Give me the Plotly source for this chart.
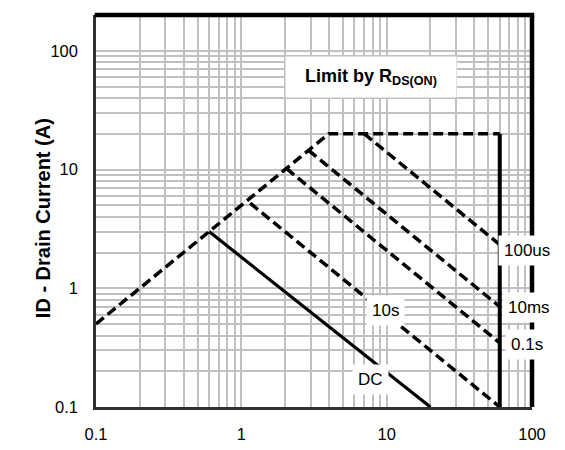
import math
import plotly.graph_objects as go

# ---- Data ----
rds_limit_v = [0.1, 4, 60]
rds_limit_i = [0.5, 20, 20]
vds_max_v = [60, 60]
vds_max_i = [20, 0.1]
t100us_v = [7, 60]
t100us_i = [20, 2.33]
t10ms_v = [2.9, 60]
t10ms_i = [14.5, 0.70]
t100ms_v = [2.04, 60]
t100ms_i = [10.2, 0.347]
t10s_v = [1.15, 60]
t10s_i = [5.2, 0.1]
dc_v = [0.6, 20]
dc_i = [3.0, 0.1]
curve_labels = ["100us", "10ms", "0.1s", "10s", "DC"]
x_tick_labels = ["0.1", "1", "10", "100"]
y_tick_labels = ["0.1", "1", "10", "100"]
y_title = "ID - Drain Current (A)"
limit_label = "Limit by R<sub>DS(ON)</sub>"

FONT = "Liberation Sans, Arial, sans-serif"
DASH = "10px,5px"

# tick positions: every 1..9 multiple; text only on decades
def ticks(labels, top):
    vals, txt = [], []
    for lab in labels:
        base = float(lab)
        for m in range(1, 10):
            v = base * m
            if v <= top * 1.0001:
                vals.append(v)
                txt.append(lab if m == 1 else "")
    return vals, txt

xv, xt = ticks(x_tick_labels, 100)
yv, yt = ticks(y_tick_labels + ["1000"], 200)

fig = go.Figure()

def line(x, y, dash=None, width=3.5):
    fig.add_trace(go.Scatter(x=x, y=y, mode="lines",
                             line=dict(color="black", width=width, dash=dash),
                             showlegend=False, hoverinfo="skip"))

line(rds_limit_v, rds_limit_i, DASH, 3.5)
line(t100us_v, t100us_i, DASH, 3.5)
line(t10ms_v, t10ms_i, DASH, 3.5)
line(t100ms_v, t100ms_i, DASH, 3.5)
line(t10s_v, t10s_i, DASH, 3.5)
line(dc_v, dc_i, None, 3.2)
line(vds_max_v, vds_max_i, None, 4)

lab_font = dict(family=FONT, size=17, color="black")
label_pos = [(92.5, 2.06), (95, 0.69), (92.5, 0.339), (9.8, 0.652), (7.7, 0.17)]
annotations = []
for text, (px, py) in zip(curve_labels, label_pos):
    annotations.append(dict(x=math.log10(px), y=math.log10(py), xref="x", yref="y",
                            xanchor="center", yanchor="middle",
                            text=text, showarrow=False, font=lab_font,
                            bgcolor="white", borderpad=5))
annotations.append(dict(x=math.log10(7.82), y=math.log10(59.6), xref="x", yref="y",
                        xanchor="center", yanchor="middle",
                        text="<b>" + limit_label + "</b>", showarrow=False,
                        font=dict(family=FONT, size=18, color="black"),
                        bgcolor="white", width=168, height=38))
annotations.append(dict(x=-0.1216, y=0.4817, xref="paper", yref="paper",
                        xanchor="center", yanchor="middle",
                        text="<b>" + y_title + "</b>", textangle=-90, showarrow=False,
                        font=dict(family=FONT, size=20, color="black")))

axis_common = dict(type="log", showgrid=True, gridcolor="#c0c0c0", gridwidth=1.5,
                   ticks="outside", tickcolor="rgba(0,0,0,0)",
                   tickfont=dict(family=FONT, size=16.5, color="black"),
                   showline=True, linecolor="#303030", linewidth=2.5,
                   zeroline=False, minor=dict(showgrid=False))

# page body adds an 8px offset, so the figure is 8px smaller and margins shifted
fig.update_layout(
    width=557, height=442,
    margin=dict(l=88, r=33, t=7, b=39.5),
    paper_bgcolor="white", plot_bgcolor="white",
    xaxis=dict(range=[-1, 2], tickvals=xv, ticktext=xt, ticklen=10, **axis_common),
    yaxis=dict(range=[-1, math.log10(200)], tickvals=yv, ticktext=yt, ticklen=12,
               **axis_common),
    annotations=annotations,
    shapes=[
        dict(type="line", xref="paper", yref="paper", x0=-0.003, x1=1.005, y0=1, y1=1,
             line=dict(color="black", width=4.5), layer="above"),
        dict(type="line", xref="paper", yref="paper", x0=1, x1=1, y0=0, y1=1,
             line=dict(color="black", width=4.5), layer="above"),
    ],
)

fig.write_html("out.html")
